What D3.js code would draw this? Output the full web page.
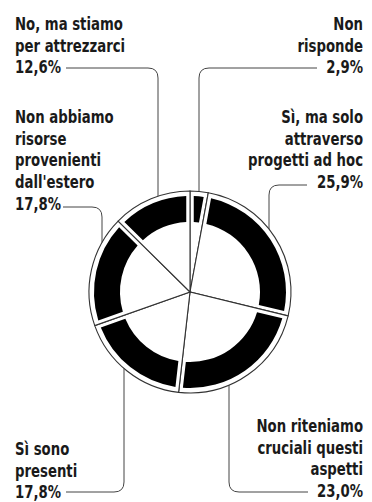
<!DOCTYPE html>
<html>
<head>
<meta charset="utf-8">
<script src="https://cdn.jsdelivr.net/npm/d3@7"></script>
<style>
  body { margin: 0; background: #fff; }
  svg { display: block; }
  .lbl { font-family: "Liberation Sans Narrow", "DejaVu Sans Condensed", sans-serif; font-weight: bold; font-size: 18px; fill: #1a1a1a; }
</style>
</head>
<body>
<script>
// slices, clockwise from 12 o'clock
const categories = [
  "Non risponde",
  "Sì, ma solo attraverso progetti ad hoc",
  "Non riteniamo cruciali questi aspetti",
  "Sì sono presenti",
  "Non abbiamo risorse provenienti dall'estero",
  "No, ma stiamo per attrezzarci"
];
const values = [2.9, 25.9, 23.0, 17.8, 17.8, 12.6];
const labelLines = [
  ["Non", "risponde"],
  ["Sì, ma solo", "attraverso", "progetti ad hoc"],
  ["Non riteniamo", "cruciali questi", "aspetti"],
  ["Sì sono", "presenti"],
  ["Non abbiamo", "risorse", "provenienti", "dall'estero"],
  ["No, ma stiamo", "per attrezzarci"]
];

const width = 372, height = 502;
const cx = 190, cy = 292, R = 101;
const bandOuter = 96, bandInner = 70;
const lineH = 21.7;

const it = d3.formatLocale({decimal: ",", thousands: ".", grouping: [3], currency: ["", "€"]});
const fmt = it.format(".1f");

// label placement: text anchor/x/first baseline, leader horizontal y, vertical x, going up or down to the circle
const place = [
  {anchor: "end",   x: 363, y: 30,  hy: 68,  hx: 317, vx: 199, side: "top"},
  {anchor: "end",   x: 363, y: 123, hy: 185, hx: 307, vx: 269, side: "top"},
  {anchor: "end",   x: 363, y: 432, hy: 492, hx: 308, vx: 229, side: "bottom"},
  {anchor: "start", x: 15,  y: 455, hy: 492, hx: 66,  vx: 124, side: "bottom"},
  {anchor: "start", x: 15,  y: 123, hy: 207, hx: 63,  vx: 102, side: "top"},
  {anchor: "start", x: 15,  y: 30,  hy: 68,  hx: 66,  vx: 158, side: "top"}
];

const svg = d3.select("body").append("svg")
  .attr("width", width)
  .attr("height", height);

const pie = d3.pie().sort(null).value(d => d)
  .startAngle(0).endAngle(2 * Math.PI);
const arcs = pie(values);

const g = svg.append("g").attr("transform", `translate(${cx},${cy})`);

// white slices with thin outlines
const sliceArc = d3.arc().innerRadius(0).outerRadius(R);
g.selectAll("path.slice")
  .data(arcs)
  .join("path")
  .attr("class", "slice")
  .attr("d", sliceArc)
  .attr("fill", "#fff")
  .attr("stroke", "#333")
  .attr("stroke-width", 1.1);

// thick black band inside each slice
const bandArc = d3.arc()
  .innerRadius(bandInner)
  .outerRadius(bandOuter)
  .padAngle(0.075)
  .padRadius(100);
g.selectAll("path.band")
  .data(arcs)
  .join("path")
  .attr("class", "band")
  .attr("d", bandArc)
  .attr("fill", "#000");

// leader lines
const rc = 10;
svg.append("g").selectAll("path")
  .data(place)
  .join("path")
  .attr("fill", "none")
  .attr("stroke", "#444")
  .attr("stroke-width", 1)
  .attr("d", p => {
    const dy = Math.sqrt(R * R - (p.vx - cx) * (p.vx - cx));
    const yEnd = p.side === "top" ? cy - dy : cy + dy;
    const sx = p.vx > p.hx ? 1 : -1;
    const sy = yEnd > p.hy ? 1 : -1;
    return `M${p.hx},${p.hy}H${p.vx - sx * rc}Q${p.vx},${p.hy} ${p.vx},${p.hy + sy * rc}V${yEnd}`;
  });

// labels, squeezed horizontally to mimic the narrow newspaper face
const lbl = svg.append("g").selectAll("g")
  .data(place)
  .join("g")
  .append("text")
  .attr("class", "lbl")
  .attr("text-anchor", p => p.anchor);

lbl.each(function(p, i) {
  const t = d3.select(this);
  const lines = labelLines[i].concat([fmt(values[i]) + "%"]);
  lines.forEach((s, j) => {
    t.append("tspan")
      .attr("x", 0)
      .attr("y", p.y + j * lineH)
      .text(s);
  });
});

// "No, ma stiamo" is ~108px wide in the original
const probe = svg.append("text").attr("class", "lbl").text("No, ma stiamo");
const squeeze = Math.min(1, 108 / probe.node().getComputedTextLength());
probe.remove();
svg.selectAll("text.lbl").each(function(p) {
  d3.select(this.parentNode).attr("transform", `translate(${p.x},0) scale(${squeeze},1)`);
});
</script>
</body>
</html>
